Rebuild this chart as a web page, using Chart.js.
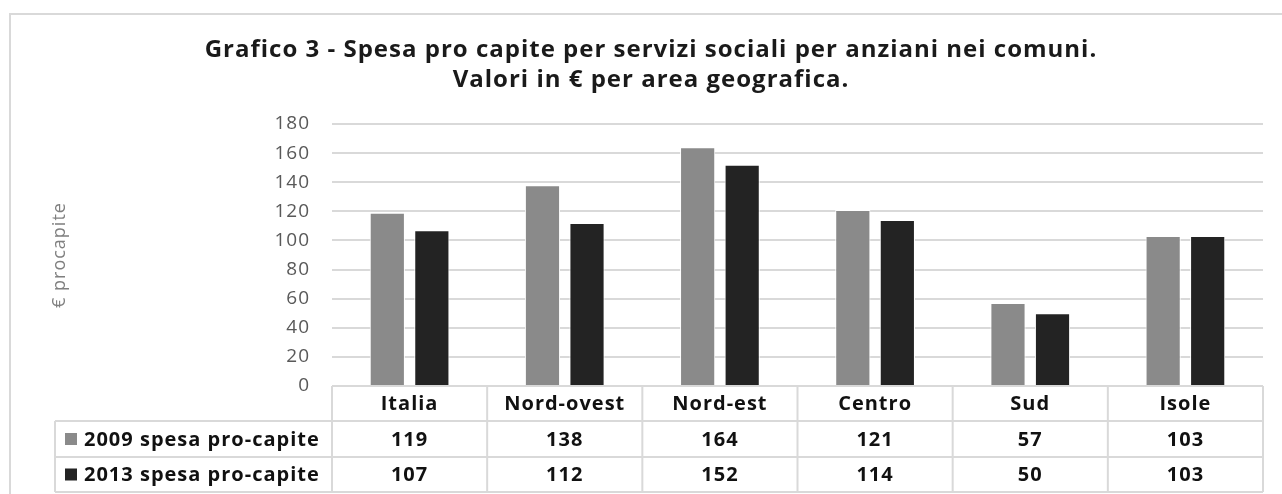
<!DOCTYPE html>
<html>
<head>
<meta charset="utf-8">
<script src="https://cdn.jsdelivr.net/npm/chart.js@4"></script>
<style>
  html, body { margin: 0; padding: 0; background: #fff; }
  #wrap { width: 1282px; height: 494px; }
</style>
</head>
<body>
<div id="wrap"><canvas id="grafico"></canvas></div>
<script>
// dati
const aree = ['Italia', 'Nord-ovest', 'Nord-est', 'Centro', 'Sud', 'Isole'];
const spesa2009 = [119, 138, 164, 121, 57, 103];
const spesa2013 = [107, 112, 152, 114, 50, 103];
const etichette = ['2009 spesa pro-capite', '2013 spesa pro-capite'];
const colori = ['#8a8a8a', '#232323'];
const titolo = ['Grafico 3 - Spesa pro capite per servizi sociali per anziani nei comuni.', 'Valori in € per area geografica.'];

const FONT = "'Open Sans', sans-serif";
const GRIGIO = '#d9d9d9';
const SPAZIO = '1px'; // il grafico originale e' un po' stirato in orizzontale

// bordo esterno + tabella dati sotto il grafico
const tabellaDati = {
    id: 'tabellaDati',
    beforeDraw(chart) {
        let ctx = chart.ctx;
        ctx.letterSpacing = SPAZIO;
        ctx.save();
        ctx.strokeStyle = GRIGIO;
        ctx.lineWidth = 2;
        ctx.beginPath();
        ctx.moveTo(10, 500);
        ctx.lineTo(10, 14);
        ctx.lineTo(1282, 14);
        ctx.stroke();
        ctx.restore();
    },
    afterDraw(chart) {
        let ctx = chart.ctx;
        let x = chart.scales.x;
        let area = chart.chartArea;
        let meta = x.getPixelForValue(1) - x.getPixelForValue(0);
        let top = area.bottom;
        let righe = [top, top + 35, top + 71, top + 106];
        let sinistra = 55;
        let destra = x.getPixelForValue(aree.length - 1) + meta / 2;
        let serie = [spesa2009, spesa2013];

        ctx.save();
        ctx.letterSpacing = SPAZIO;
        ctx.strokeStyle = GRIGIO;
        ctx.lineWidth = 2;
        ctx.beginPath();
        // righe orizzontali
        ctx.moveTo(area.left, righe[0]); ctx.lineTo(destra, righe[0]);
        for (let r = 1; r < righe.length; r++) {
            ctx.moveTo(sinistra, righe[r]); ctx.lineTo(destra, righe[r]);
        }
        // colonne
        ctx.moveTo(sinistra, righe[1]); ctx.lineTo(sinistra, righe[3]);
        for (let i = 0; i <= aree.length; i++) {
            let px = x.getPixelForValue(i) - meta / 2;
            ctx.moveTo(px, righe[0]); ctx.lineTo(px, righe[3]);
        }
        ctx.stroke();

        ctx.fillStyle = '#111';
        ctx.font = 'bold 20px ' + FONT;
        ctx.textAlign = 'center';
        ctx.textBaseline = 'middle';
        aree.forEach(function(a, i) {
            let px = x.getPixelForValue(i);
            ctx.fillText(a, px, (righe[0] + righe[1]) / 2 + 1);
            serie.forEach(function(s, k) {
                ctx.fillText(String(s[i]), px, (righe[k + 1] + righe[k + 2]) / 2 + 1);
            });
        });
        ctx.textAlign = 'left';
        etichette.forEach(function(e, k) {
            let cy = (righe[k + 1] + righe[k + 2]) / 2;
            ctx.fillStyle = colori[k];
            ctx.fillRect(65, cy - 6, 12, 12);
            ctx.fillStyle = '#111';
            ctx.fillText(e, 84, cy + 1);
        });
        ctx.restore();
    }
};

let ctx = document.getElementById('grafico').getContext('2d');
let chartSpesa = new Chart(ctx, {
    type: 'bar',
    data: {
        labels: aree,
        datasets: [{
            label: etichette[0],
            data: spesa2009,
            backgroundColor: colori[0],
            borderColor: '#ffffff',
            borderWidth: 1
        }, {
            label: etichette[1],
            data: spesa2013,
            backgroundColor: colori[1],
            borderColor: '#ffffff',
            borderWidth: 1
        }]
    },
    options: {
        responsive: true,
        maintainAspectRatio: false,
        animation: false,
        layout: { padding: { left: 39, right: 19, top: 13, bottom: 108 } },
        datasets: { bar: { categoryPercentage: 0.574, barPercentage: 0.79 } },
        plugins: {
            legend: { display: false },
            tooltip: { enabled: false },
            title: {
                display: true,
                text: titolo,
                color: '#1a1a1a',
                font: { family: FONT, size: 24, weight: 'bold', lineHeight: 1.25 },
                padding: { top: 22, bottom: 29 }
            }
        },
        scales: {
            x: {
                display: false
            },
            y: {
                min: 0,
                max: 180,
                afterFit: function(s) { s.width = 332 - 39; },
                ticks: {
                    stepSize: 20,
                    padding: 22,
                    color: '#595959',
                    font: { family: FONT, size: 19 }
                },
                grid: { color: GRIGIO, lineWidth: 2, drawTicks: false },
                border: { display: false },
                title: {
                    display: true,
                    text: '€ procapite',
                    color: '#7f7f7f',
                    font: { family: FONT, size: 18 },
                    padding: { top: 10, bottom: 0 }
                }
            }
        }
    },
    plugins: [tabellaDati]
});
</script>
</body>
</html>
